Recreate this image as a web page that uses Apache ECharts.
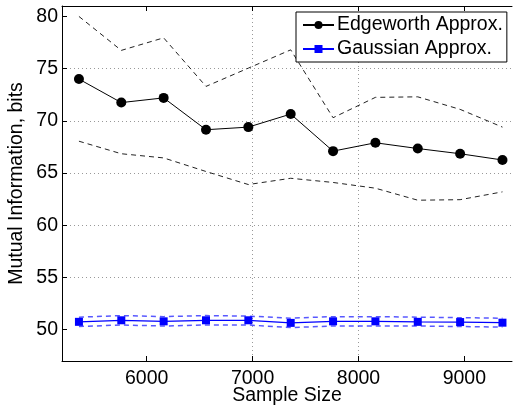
<!DOCTYPE html>
<html>
<head>
<meta charset="utf-8">
<script src="https://cdn.jsdelivr.net/npm/echarts@6/dist/echarts.min.js"></script>
<style>
  html, body { margin: 0; padding: 0; background: #fff; }
  #chart { width: 513px; height: 407px; }
</style>
</head>
<body>
<div id="chart"></div>
<script>
// sample sizes on the x axis
const sampleSizes = [5360, 5760, 6160, 6560, 6960, 7360, 7760, 8160, 8560, 8960, 9360];

// Edgeworth approximation: mean and dashed bounds
const edgeMean  = [74.0, 71.75, 72.2, 69.15, 69.4, 70.65, 67.1, 67.9, 67.35, 66.85, 66.25];
const edgeUpper = [80.0, 76.75, 77.95, 73.3, 75.05, 76.8, 70.3, 72.25, 72.3, 71.1, 69.4];
const edgeLower = [68.05, 66.85, 66.45, 65.15, 63.9, 64.5, 64.1, 63.55, 62.4, 62.45, 63.2];

// Gaussian approximation: mean and dashed bounds
const gaussMean  = [50.75, 50.9, 50.8, 50.9, 50.9, 50.65, 50.8, 50.8, 50.75, 50.73, 50.67];
const gaussUpper = [51.2, 51.35, 51.25, 51.35, 51.3, 51.1, 51.25, 51.25, 51.2, 51.15, 51.1];
const gaussLower = [50.3, 50.45, 50.35, 50.45, 50.45, 50.2, 50.35, 50.35, 50.35, 50.3, 50.25];

const xTicks = [6000, 7000, 8000, 9000];
const yTicks = [50, 55, 60, 65, 70, 75, 80];

const font = "'Liberation Sans', Arial, Helvetica, sans-serif";

function pairs(ys) {
    return sampleSizes.map((x, i) => [x, ys[i]]);
}

function dashed(name, ys, color, width, opacity) {
    return {
        name: name,
        type: 'line',
        data: pairs(ys),
        symbol: 'none',
        silent: true,
        z: 2,
        lineStyle: { color: color, width: width, type: [5, 4], opacity: opacity }
    };
}

let myChart = echarts.init(document.getElementById('chart'), null, { renderer: 'canvas' });

let option = {
    animation: false,
    backgroundColor: '#fff',
    textStyle: { fontFamily: font },
    grid: { left: 62, top: 6, right: 1, bottom: 46, outerBoundsMode: 'none', containLabel: false },
    legend: {
        data: ['Edgeworth Approx.', 'Gaussian Approx.'],
        orient: 'vertical',
        left: 296,
        top: 12,
        padding: [2, 4, 2, 6],
        itemWidth: 31,
        itemHeight: 10,
        itemGap: 2,
        backgroundColor: '#fff',
        borderColor: '#000',
        borderWidth: 1,
        borderRadius: 0,
        textStyle: { fontSize: 19.5, color: '#000', fontFamily: font, lineHeight: 22, padding: [0, 0, 0, -2] }
    },
    xAxis: [{
        type: 'value',
        min: 5200,
        max: 9450,
        name: 'Sample Size',
        nameLocation: 'middle',
        nameGap: 25,
        nameMoveOverlap: false,
        nameTextStyle: { fontSize: 19.5, color: '#000', fontFamily: font },
        axisLine: { lineStyle: { color: '#000', width: 1 } },
        axisTick: { inside: true, length: 5, customValues: xTicks, lineStyle: { color: '#000' } },
        axisLabel: { customValues: xTicks, fontSize: 19.5, color: '#000', margin: 8, fontFamily: font,
                     formatter: v => String(v) },
        splitLine: { show: true, showMinLine: false, showMaxLine: false,
                     lineStyle: { color: '#999', type: [1, 3], width: 1 } }
    }, {
        type: 'value',
        position: 'top',
        min: 5200,
        max: 9450,
        axisLine: { show: true, lineStyle: { color: '#000', width: 1 } },
        axisTick: { inside: true, length: 5, customValues: xTicks, lineStyle: { color: '#000' } },
        axisLabel: { show: false },
        splitLine: { show: false }
    }],
    yAxis: {
        type: 'value',
        min: 47,
        max: 81,
        name: 'Mutual Information, bits',
        nameLocation: 'middle',
        nameGap: 35,
        nameMoveOverlap: false,
        nameTextStyle: { fontSize: 19.5, color: '#000', fontFamily: font },
        axisLine: { show: true, lineStyle: { color: '#000', width: 1 } },
        axisTick: { inside: true, length: 5, customValues: yTicks, lineStyle: { color: '#000' } },
        axisLabel: { customValues: yTicks, fontSize: 19.5, color: '#000', margin: 4, fontFamily: font },
        splitLine: { show: true, showMinLine: false, showMaxLine: false,
                     lineStyle: { color: '#999', type: [1, 3], width: 1 } }
    },
    series: [
        dashed('edgeUpper', edgeUpper, '#222', 1, 1),
        dashed('edgeLower', edgeLower, '#222', 1, 1),
        dashed('gaussUpper', gaussUpper, '#2020ff', 1.5, 0.75),
        dashed('gaussLower', gaussLower, '#2020ff', 1.5, 0.75),
        {
            name: 'Edgeworth Approx.',
            type: 'line',
            data: pairs(edgeMean),
            symbol: 'circle',
            symbolSize: 10,
            z: 3,
            itemStyle: { color: '#000' },
            lineStyle: { color: '#000', width: 1 }
        },
        {
            name: 'Gaussian Approx.',
            type: 'line',
            data: pairs(gaussMean),
            symbol: 'rect',
            symbolSize: 8,
            z: 3,
            itemStyle: { color: '#0000ff' },
            lineStyle: { color: '#0000ff', width: 1.2 }
        }
    ]
};

myChart.setOption(option);
</script>
</body>
</html>
